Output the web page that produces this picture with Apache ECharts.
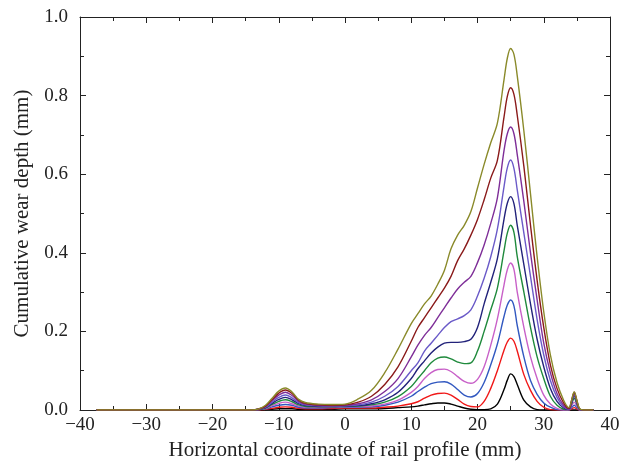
<!DOCTYPE html>
<html>
<head>
<meta charset="utf-8">
<script src="https://cdn.jsdelivr.net/npm/echarts@6/dist/echarts.min.js"></script>
<style>html,body{margin:0;padding:0;background:#fff}#c{width:625px;height:472px}</style>
</head>
<body>
<div id="c"></div>
<script>
// x positions (mm)
var xs = [-37.5, -14, -13, -12, -11, -10, -9, -8, -7, -6, -4, -2, 0,
  2, 4, 6, 8, 10, 11, 12, 13, 14, 15, 16, 17, 18, 19, 20, 21, 22, 23, 24, 24.5, 25, 25.5,
  26, 27, 28, 29, 30, 31, 32, 33, 33.8, 34.2, 34.6, 35, 35.4, 36, 37.5];

var sBlack = [0,0,0,0.001,0.002,0.003,0.003,0.003,0.002,0.002,0.002,0.002,0.003,
  0.003,0.003,0.004,0.006,0.008,0.01,0.013,0.016,0.018,0.018,0.015,0.01,0.005,0.002,0.001,0.001,0.003,0.015,0.052,0.076,0.092,0.085,
  0.065,0.025,0.008,0.001,0,0,0,0,0,0,0,0,0,0,0];
var sRed = [0,0,0,0.002,0.004,0.007,0.008,0.007,0.004,0.003,0.003,0.004,0.005,
  0.005,0.005,0.007,0.01,0.016,0.021,0.03,0.038,0.042,0.043,0.038,0.027,0.015,0.009,0.008,0.022,0.055,0.1,0.152,0.173,0.183,0.175,
  0.15,0.09,0.05,0.022,0.007,0.001,0,0,0,0.003,0.006,0.003,0,0,0];
var sBlue = [0,0,0.001,0.003,0.008,0.012,0.014,0.012,0.007,0.005,0.005,0.006,0.007,
  0.007,0.008,0.012,0.02,0.035,0.047,0.058,0.067,0.071,0.072,0.066,0.052,0.038,0.033,0.042,0.07,0.115,0.168,0.238,0.267,0.28,0.265,
  0.215,0.135,0.075,0.04,0.018,0.007,0.001,0,0,0.006,0.012,0.006,0,0,0];
var sMagenta = [0,0,0.001,0.004,0.011,0.017,0.02,0.016,0.01,0.007,0.006,0.007,0.008,
  0.008,0.01,0.015,0.025,0.045,0.06,0.08,0.095,0.103,0.104,0.098,0.085,0.073,0.068,0.078,0.11,0.165,0.232,0.318,0.357,0.374,0.358,
  0.30,0.21,0.135,0.08,0.038,0.015,0.004,0,0,0.01,0.02,0.01,0,0,0];
var sGreen = [0,0,0.001,0.005,0.014,0.022,0.026,0.021,0.013,0.009,0.008,0.008,0.009,
  0.01,0.013,0.02,0.034,0.06,0.08,0.1,0.12,0.132,0.135,0.13,0.122,0.118,0.12,0.15,0.2,0.255,0.31,0.405,0.45,0.47,0.452,
  0.39,0.30,0.21,0.135,0.08,0.035,0.012,0.002,0.001,0.015,0.03,0.015,0.001,0,0];
var sNavy = [0,0,0.002,0.006,0.017,0.027,0.032,0.026,0.016,0.011,0.009,0.009,0.01,
  0.011,0.016,0.026,0.045,0.08,0.105,0.125,0.145,0.16,0.17,0.172,0.172,0.174,0.18,0.21,0.27,0.325,0.385,0.485,0.526,0.543,0.525,
  0.47,0.37,0.27,0.18,0.11,0.055,0.022,0.005,0.001,0.018,0.036,0.018,0.002,0,0];
var sSlate = [0,0,0.002,0.007,0.02,0.032,0.038,0.031,0.019,0.013,0.011,0.01,0.011,
  0.013,0.02,0.035,0.06,0.1,0.12,0.15,0.17,0.19,0.21,0.225,0.232,0.24,0.255,0.29,0.335,0.39,0.46,0.568,0.616,0.636,0.615,
  0.56,0.45,0.34,0.23,0.14,0.075,0.032,0.008,0.002,0.02,0.04,0.02,0.002,0,0];
var sPurple = [0,0,0.002,0.009,0.024,0.038,0.045,0.037,0.022,0.015,0.012,0.011,0.012,
  0.016,0.026,0.047,0.08,0.135,0.165,0.19,0.21,0.235,0.26,0.285,0.308,0.325,0.34,0.375,0.42,0.475,0.54,0.66,0.703,0.72,0.703,
  0.65,0.53,0.40,0.28,0.17,0.095,0.042,0.012,0.003,0.022,0.043,0.022,0.003,0,0];
var sDarkRed = [0,0,0.003,0.01,0.027,0.043,0.051,0.042,0.025,0.017,0.013,0.012,0.013,
  0.02,0.035,0.065,0.11,0.175,0.21,0.235,0.26,0.285,0.31,0.34,0.38,0.41,0.445,0.485,0.535,0.59,0.635,0.745,0.798,0.82,0.803,
  0.75,0.62,0.47,0.33,0.21,0.115,0.055,0.018,0.004,0.024,0.045,0.024,0.003,0,0];
var sOlive = [0,0,0.003,0.012,0.03,0.048,0.056,0.046,0.027,0.019,0.015,0.014,0.015,
  0.028,0.05,0.095,0.155,0.22,0.245,0.27,0.29,0.32,0.355,0.41,0.445,0.47,0.505,0.565,0.625,0.68,0.73,0.84,0.895,0.92,0.905,
  0.85,0.71,0.55,0.39,0.25,0.14,0.07,0.025,0.006,0.025,0.046,0.025,0.004,0,0];

var seriesList = [sBlack, sRed, sBlue, sMagenta, sGreen, sNavy, sSlate, sPurple, sDarkRed, sOlive];
var colors = ['#000000', '#f01818', '#3158c0', '#c860c8', '#1f8a3c', '#22227a', '#6a5ac8', '#7e2e98', '#8a1a1a', '#8a8a2a'];

var xTicks = [-40, -30, -20, -10, 0, 10, 20, 30, 40];
var yTicks = [0.0, 0.2, 0.4, 0.6, 0.8, 1.0];

var FONT = '"Liberation Serif", "DejaVu Serif", serif';
function fmtX(v) { return (v < 0 ? '\u2212' + Math.abs(v) : String(v)); }

var chart = echarts.init(document.getElementById('c'), null, {renderer: 'canvas'});

var axisCommon = {
  axisLine: {show: true, onZero: false, lineStyle: {color: '#222', width: 1}},
  axisTick: {show: true, inside: true, length: 6, lineStyle: {color: '#222'}},
  minorTick: {show: true, splitNumber: 2, length: 4, lineStyle: {color: '#222'}},
  splitLine: {show: false}
};

var series = seriesList.map(function (arr, i) {
  return {
    type: 'line',
    data: xs.map(function (x, k) { return [x, arr[k]]; }),
    smooth: 0.35,
    symbol: 'none',
    lineStyle: {color: colors[i], width: 1.4},
    z: 2 + i
  };
});

chart.setOption({
  animation: false,
  backgroundColor: '#fff',
  grid: {left: 80, right: 15, top: 17, bottom: 62, containLabel: false},
  xAxis: [
    Object.assign({}, axisCommon, {
      type: 'value', min: -40, max: 40, interval: 10, position: 'bottom',
      axisLabel: {color: '#222', fontFamily: FONT, fontSize: 19, margin: 6, formatter: fmtX},
      name: 'Horizontal coordinate of rail profile (mm)', nameLocation: 'middle', nameGap: 29,
      nameTextStyle: {color: '#222', fontFamily: FONT, fontSize: 21}
    }),
    Object.assign({}, axisCommon, {
      type: 'value', min: -40, max: 40, interval: 10, position: 'top',
      axisLabel: {show: false}
    })
  ],
  yAxis: [
    Object.assign({}, axisCommon, {
      type: 'value', min: 0, max: 1, interval: 0.2, position: 'left',
      axisLabel: {color: '#222', fontFamily: FONT, fontSize: 19, margin: 12,
        formatter: function (v) { return v.toFixed(1); }},
      name: 'Cumulative wear depth (mm)', nameLocation: 'middle', nameGap: 47, nameRotate: 90,
      nameTextStyle: {color: '#222', fontFamily: FONT, fontSize: 21}
    }),
    Object.assign({}, axisCommon, {
      type: 'value', min: 0, max: 1, interval: 0.2, position: 'right',
      axisLabel: {show: false}
    })
  ],
  series: series
});
</script>
</body>
</html>
